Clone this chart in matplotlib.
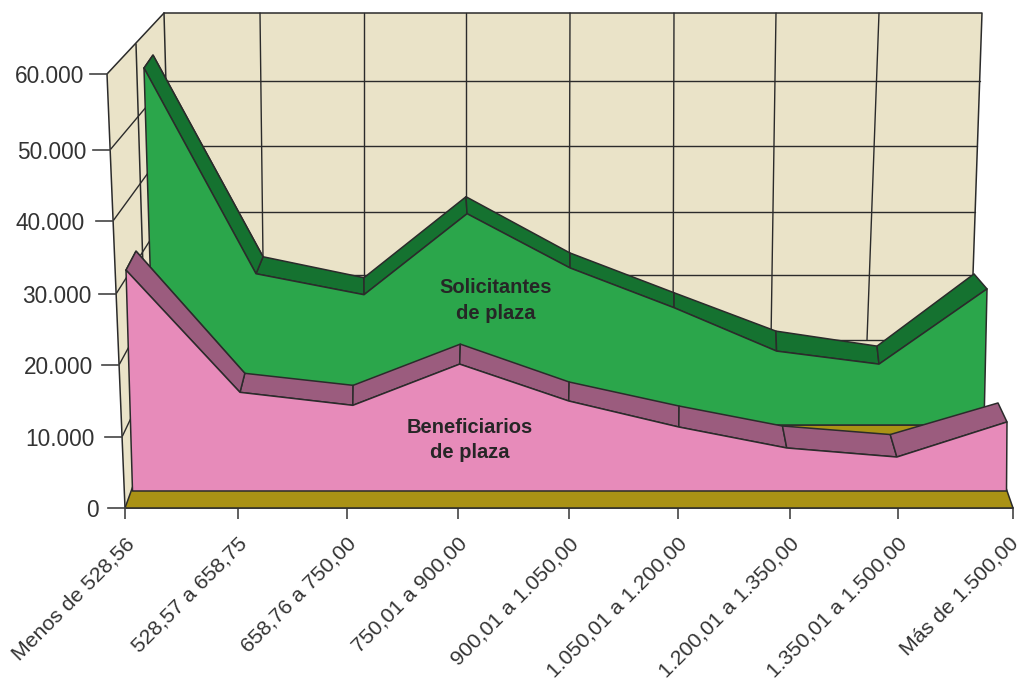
import matplotlib
matplotlib.use("Agg")
import matplotlib.pyplot as plt
from matplotlib.transforms import ScaledTranslation
from matplotlib.patches import Polygon
import numpy as np

# ---------- data ----------
categories = ["Menos de 528,56", "528,57 a 658,75", "658,76 a 750,00", "750,01 a 900,00",
              "900,01 a 1.050,00", "1.050,01 a 1.200,00", "1.200,01 a 1.350,00",
              "1.350,01 a 1.500,00", "Más de 1.500,00"]
beneficiarios = [32900, 16000, 14200, 19900, 14800, 11200, 8300, 7050, 11900]
solicitantes = [60850, 32400, 29500, 40700, 33200, 27700, 21700, 19900, 30300]
y_ticks = [0, 10000, 20000, 30000, 40000, 50000, 60000]
y_labels = ["0", "10.000", "20.000", "30.000", "40.000", "50.000", "60.000"]

# ---------- figure scale: front plane of the box ----------
W, H = 1022, 689
X0, DX = 125.0, 111.0      # pixel of first category, pixels per category
Y0, SY = 508.0, 0.00723    # pixel of value 0, pixels per unit


def X(px):
    return (np.asarray(px, float) - X0) / DX


def V(py):
    return (Y0 - np.asarray(py, float)) / SY


C_WALL, C_FLOOR = "#EAE3C8", "#AA9215"
C_GREEN, C_GREEN_D = "#2BA64B", "#157230"
C_PINK, C_PINK_D = "#E78BBA", "#9B5C7E"
C_LINE, C_TEXT = "#2B2B2B", "#333333"
LW = 1.1

FONT = ["Liberation Sans", "DejaVu Sans"]
plt.rcParams["font.family"] = FONT

fig = plt.figure(figsize=(W / 100, H / 100), dpi=100, facecolor="white")
ax = fig.add_axes([0, 0, 1, 1])
ax.set_xlim(X(0), X(W))
ax.set_ylim(V(H), V(0))
ax.patch.set_visible(False)
for s in ("top", "left", "right"):
    ax.spines[s].set_visible(False)
ax.spines["bottom"].set_position(("data", 0))
ax.spines["bottom"].set_bounds(0, 8)
ax.spines["bottom"].set_color("#444444")
ax.spines["bottom"].set_linewidth(1.2)
ax.set_yticks([])


def poly(px, py, color, z, lw=LW, ec=C_LINE):
    ax.add_patch(Polygon(np.column_stack([X(px), V(py)]), closed=True, fc=color,
                         ec=ec, lw=lw, zorder=z, joinstyle="round"))


def seg(px, py, z=2, lw=LW, color=C_LINE):
    ax.plot(X(px), V(py), color=color, lw=lw, zorder=z, solid_capstyle="round")


# ---------- walls ----------
poly([107, 164, 169, 155, 125], [74, 13, 340, 425, 508], C_WALL, 1, ec="none")
poly([164, 982, 973, 965, 169, 155], [13, 13, 274, 420, 340, 425], C_WALL, 1, ec="none")
seg([164, 982, 973], [13, 13, 274])
seg([164, 107, 125], [13, 74, 508])
seg([164, 167], [13, 120])
seg([136, 144], [44, 300])

wall_y = [81, 145.5, 212, 275, 340]
wall_right_x = [979.6, 977.4, 975, 973, 885]
for yb, xr in zip(wall_y, wall_right_x):
    seg([168, xr], [yb, yb], lw=1.0)
front_edge_x = [110, 113, 116, 119, 122]
front_edge_y = [150, 221, 294, 365, 437]
for xf, yf, yb in zip(front_edge_x, front_edge_y, wall_y):
    seg([xf, 168], [yf, yb], lw=1.0)

wall_top_x = [260, 364, 466, 570, 674, 776, 879]
wall_low_x = [264, 364, 466, 569, 673, 771, 867]
for a, b in zip(wall_top_x, wall_low_x):
    seg([a, b], [13, 340], lw=1.0)

# ---------- floor ----------
poly([125, 1013, 984, 155], [508, 508, 425, 425], C_FLOOR, 3)


# ---------- depth layers of the two ribbons ----------
def layer(values, left, right, lift, warp):
    i = np.arange(len(values)) + np.asarray(warp)
    x = X(left) + (X(right) - X(left)) * i / (len(values) - 1)
    return x, np.asarray(values, float) + np.asarray(lift, float) / SY


def ribbon(front, back, face, dark, base_x, base_y, z):
    xf, yf = front
    xb, yb = back
    for k in range(len(xf) - 1):
        ax.add_patch(Polygon([(xb[k], yb[k]), (xb[k + 1], yb[k + 1]),
                              (xf[k + 1], yf[k + 1]), (xf[k], yf[k])], closed=True,
                             fc=dark, ec=C_LINE, lw=LW, zorder=z, joinstyle="round"))
    ax.add_patch(Polygon([(xb[0], yb[0]), (xb[1], yb[1]), (xf[1], yf[1]), (xf[0], yf[0])],
                         closed=True, fc=dark, ec=C_LINE, lw=LW, zorder=z))
    outline = list(zip(xf, yf)) + [(X(base_x[1]), V(base_y)), (X(base_x[0]), V(base_y))]
    ax.add_patch(Polygon(outline, closed=True, fc=face, ec=C_LINE, lw=LW, zorder=z + 1,
                         joinstyle="round"))


green_front = layer(solicitantes, 144, 987, 0,
                    [0, .063, .088, .066, .043, .03, .003, -.025, 0])
green_back = layer(solicitantes, 153, 974, [13, 17, 17, 17, 15, 15, 20, 18, 15],
                   [0, .072, .056, .05, .063, .077, .07, .055, 0])
pink_front = layer(beneficiarios, 126, 1007, 0,
                   [0, .035, .06, .03, .02, .02, 0, 0, 0])
pink_back = layer(beneficiarios, 136, 998, [19, 19, 20, 20, 19, 21, 22, 22.5, 19],
                  [0, .01, .015, .01, .02, .04, 0, 0, 0])

ribbon(green_front, green_back, C_GREEN, C_GREEN_D, (155, 984), 425, 4)
ribbon(pink_front, pink_back, C_PINK, C_PINK_D, (132.5, 1006.5), 491, 6)

# ---------- axes furniture ----------
ax.set_xticks([0, 1.02, 2, 3, 4, 4.98, 5.99, 6.96, 8])
ax.set_xticklabels(categories, rotation=45, ha="right", va="top",
                   rotation_mode="anchor", fontsize=15.3, color=C_TEXT)
ax.tick_params(axis="x", length=8, width=1.2, color="#444444", pad=0)
labels = ax.get_xticklabels()
for k, lab in enumerate(labels):
    dx = -0.005 if k < len(labels) - 1 else -0.045
    lab.set_transform(lab.get_transform() + ScaledTranslation(dx, -0.15, fig.dpi_scale_trans))

tick_edge_px = [125, 122, 119, 116, 113, 110, 107]
tick_row_px = [508, 437, 365, 294, 221, 150, 74]
label_right_px = [99, 95, 93, 91, 85, 86, 84]
for lab, xe, yr, xr in zip(y_labels, tick_edge_px, tick_row_px, label_right_px):
    ax.plot([X(xe - 17), X(xe)], [V(yr), V(yr)], color="#444444", lw=1.2, zorder=7)
    ax.text(X(xr), V(yr), lab, ha="right", va="center_baseline", fontsize=16.3,
            color=C_TEXT, zorder=8)

ax.text(X(496), V(287), "Solicitantes", ha="center", va="center", fontsize=14.5,
        weight="bold", color="#262626", zorder=9)
ax.text(X(496), V(313), "de plaza", ha="center", va="center", fontsize=14.5,
        weight="bold", color="#262626", zorder=9)
ax.text(X(470), V(427), "Beneficiarios", ha="center", va="center", fontsize=14.5,
        weight="bold", color="#262626", zorder=9)
ax.text(X(470), V(453), "de plaza", ha="center", va="center", fontsize=14.5,
        weight="bold", color="#262626", zorder=9)

fig.savefig("out.png", dpi=100, facecolor="white")
